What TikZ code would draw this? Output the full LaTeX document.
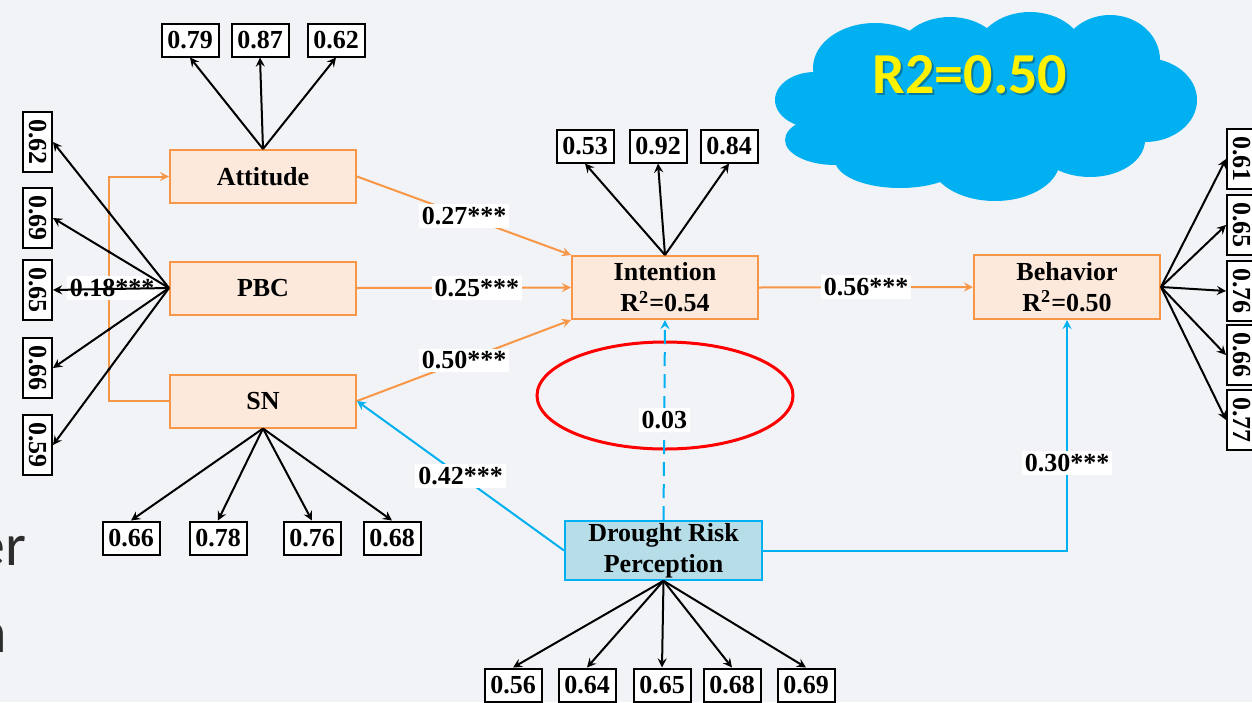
\documentclass[tikz,border=0pt]{standalone}
\usepackage{fontspec}
\setmainfont{Liberation Serif}
\newfontfamily\cloudfont{Carlito}
\usetikzlibrary{arrows,calc}

\definecolor{slidebg}{RGB}{242,243,246}
\definecolor{pathorange}{RGB}{247,150,70}
\definecolor{boxorange}{RGB}{252,233,220}
\definecolor{pathblue}{RGB}{0,176,240}
\definecolor{boxblue}{RGB}{183,222,232}
\definecolor{textgray}{RGB}{45,45,45}

\tikzset{
	latent/.style={draw=pathorange, fill=boxorange, line width=1pt, minimum width=93pt, minimum height=26.5pt, inner sep=1pt, align=center, font=\fontsize{13}{15.5}\selectfont\bfseries},
	loadbox/.style={draw, fill=white, line width=1pt, minimum width=28.5pt, minimum height=16.5pt, inner sep=1pt, font=\fontsize{13}{15}\selectfont\bfseries},
	vloadbox/.style={loadbox, rotate=-90, minimum width=30pt, minimum height=14.5pt},
	coef/.style={fill=white, inner sep=1.5pt, font=\fontsize{13}{15}\selectfont\bfseries},
	loadarrow/.style={->, >=stealth, line width=1pt},
	opath/.style={->, >=stealth, draw=pathorange, line width=1pt},
	bpath/.style={->, >=stealth, draw=pathblue, line width=1pt}
}

\begin{document}
\begin{tikzpicture}[x=0.5pt,y=-0.5pt]
		
		% Slide background
		\fill[slidebg] (0,0) rectangle (1252,702);
		\useasboundingbox (0,0) rectangle (1252,702);
		\node[font=\cloudfont\fontsize{30}{30}\selectfont, text=textgray, anchor=base east, inner sep=0] (sidea) at (27,565) {er};
		\node[font=\cloudfont\fontsize{30}{30}\selectfont, text=textgray, anchor=base east, inner sep=0] (sideb) at (7,652) {n};
		
		% Cloud, built from overlapping puffs
		\begin{scope}[pathblue]
		\fill (985,105) ellipse [x radius=170, y radius=60];
		\foreach \cx/\cy/\rx/\ry in {815/100/40/28, 835/140/50/25, 900/160/65/28, 995/160/65/41,
			1090/140/55/37, 1145/100/52/42, 1110/60/50/45, 1030/55/55/43, 950/60/55/43, 875/68/62/45}
			\fill (\cx,\cy) ellipse [x radius=\rx, y radius=\ry];
		\end{scope}
		\node[font=\cloudfont\bfseries\fontsize{29}{30}\selectfont, text=black, opacity=0.3] (rshadow) at (972,77) {R2=0.50};
		\node[font=\cloudfont\bfseries\fontsize{29}{30}\selectfont, text=yellow] (rtwo) at (970,75) {R2=0.50};
		
		% Constructs
		\node[latent] (att) at (263,176.5) {Attitude};
		\node[latent] (pbc) at (263,288) {PBC};
		\node[latent] (sn) at (263,401) {SN};
		\node[latent, minimum height=31.5pt] (int) at (665,287.5) {Intention\\R\textsuperscript{2}=0.54};
		\node[latent, minimum height=32pt] (beh) at (1067,287) {Behavior\\R\textsuperscript{2}=0.50};
		\node[latent, draw=pathblue, fill=boxblue, minimum width=98.5pt, minimum height=28.5pt] (drp) at (663.5,550.5) {Drought Risk\\Perception};
		
		% Correlation bracket between Attitude and SN
		\draw[opath] (sn.west) -- ++(-60,0) |- (att.west);
		\coordinate (brtop) at ($(att.west)+(-60,0)$);
		\coordinate (brbot) at ($(sn.west)+(-60,0)$);
		\node[coef] (corr) at (112,288) {0.18***};
		
		% Loadings
		\foreach \v/\x [count=\i] in {0.79/190,0.87/260,0.62/336} {
			\node[loadbox] (at\i) at (\x,40) {\v};
			\draw[loadarrow] (att.north) -- (at\i.south);
		}
		\foreach \v/\x [count=\i] in {0.53/585,0.92/658,0.84/729} {
			\node[loadbox] (in\i) at (\x,146) {\v};
			\draw[loadarrow] (int.north) -- (in\i.south);
		}
		\foreach \v/\x [count=\i] in {0.66/131,0.78/218,0.76/312,0.68/392} {
			\node[loadbox] (sl\i) at (\x,538) {\v};
			\draw[loadarrow] (sn.south) -- (sl\i.north);
		}
		\foreach \v/\x [count=\i] in {0.56/513,0.64/587,0.65/662,0.68/732,0.69/806} {
			\node[loadbox] (dl\i) at (\x,685) {\v};
			\draw[loadarrow] (drp.south) -- (dl\i.north);
		}
		\foreach \v/\y [count=\i] in {0.62/142,0.69/218,0.65/290,0.66/368,0.59/445} {
			\node[vloadbox] (pl\i) at (37.5,\y) {\v};
			\draw[loadarrow] (pbc.west) -- (pl\i.north);
		}
		\foreach \v/\y [count=\i] in {0.61/159,0.65/225,0.76/291,0.66/355,0.77/420} {
			\node[vloadbox] (bl\i) at (1241.5,\y) {\v};
			\draw[loadarrow] (beh.east) -- (bl\i.south);
		}
		
		% Crossing dots on the bracket
		\foreach \i in {1,2,4,5}
			\fill (intersection of pbc.west--pl\i.north and brtop--brbot) circle (1.6);
		
		% Paths between constructs
		\draw[opath] (att.east) -- (int.north west) node[coef, midway] {0.27***};
		\draw[opath] (pbc.east) -- (int.west) node[coef, pos=0.56] {0.25***};
		\draw[opath] (sn.east) -- (int.south west) node[coef, midway] {0.50***};
		\draw[opath] (int.east) -- (beh.west) node[coef, midway] {0.56***};
		\draw[bpath] (drp.west) -- (sn.east) node[coef, midway] {0.42***};
		
		% Moderation ring
		\draw[red, line width=1.5pt] (665,395.5) ellipse [x radius=128, y radius=53.5];
		\draw[bpath, dash pattern=on 7pt off 4pt] (drp.north) -- (int.south) node[coef, midway] {0.03};
		\draw[bpath] (drp.east) -| (beh.south) node[coef, pos=0.69] {0.30***};
		
\end{tikzpicture}
\end{document}
